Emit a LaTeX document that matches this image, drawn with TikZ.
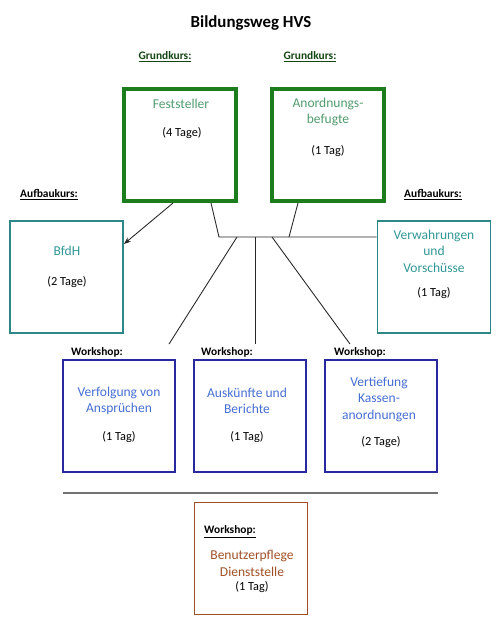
\documentclass[tikz,border=0pt]{standalone}
\usepackage{fontspec}
\setmainfont{Carlito}
\usepackage{xcolor}
\usetikzlibrary{arrows.meta, calc, positioning}

\definecolor{kursgruen}{RGB}{28,125,28}
\definecolor{kurstext}{RGB}{80,155,110}
\definecolor{labelgruen}{RGB}{20,70,20}
\definecolor{aufbaurand}{RGB}{45,135,135}
\definecolor{aufbautext}{RGB}{50,150,150}
\definecolor{workrand}{RGB}{40,40,160}
\definecolor{worktext}{RGB}{70,110,210}
\definecolor{braun}{RGB}{160,80,40}

\begin{document}
\begin{tikzpicture}[x=0.02cm, y=-0.02cm,
    kursbox/.style={draw=kursgruen, line width=2.3pt, minimum width=2.24cm, minimum height=2.24cm, inner sep=0pt},
    aufbaubox/.style={draw=aufbaurand, line width=1.1pt, minimum width=2.26cm, minimum height=2.24cm, inner sep=0pt},
    workbox/.style={draw=workrand, line width=1.1pt, minimum width=2.24cm, minimum height=2.24cm, inner sep=0pt},
    extrabox/.style={draw=braun, line width=0.9pt, minimum width=2.26cm, minimum height=2.24cm, inner sep=0pt},
    nametext/.style={align=center, inner sep=0pt, font=\fontsize{7.7}{9.4}\selectfont},
    tagetext/.style={inner sep=0pt, font=\fontsize{7}{8}\selectfont},
    kopf/.style={inner sep=0pt, font=\fontsize{6.5}{8}\selectfont\bfseries},
    verbindung/.style={line width=0.5pt, black!85}]
    \useasboundingbox (0,0) rectangle (499,625);

    % Titel
    \node[inner sep=0pt, font=\fontsize{9.6}{11}\selectfont\bfseries] (titel) at (251,23) {Bildungsweg HVS};

    % Grundkurse
    \node[kopf, labelgruen] (gk1) at (165,57) {\underline{Grundkurs:}};
    \node[kopf, labelgruen] (gk2) at (310,57) {\underline{Grundkurs:}};
    \node[kursbox] (fest) at (180,145) {};
    \node[nametext, kurstext] (fest-n) at (181,104) {Feststeller};
    \node[tagetext] (fest-t) at (182,133) {(4 Tage)};
    \node[kursbox] (anord) at (328,145) {};
    \node[nametext, kurstext] (anord-n) at (328,112) {Anordnungs-\\befugte};
    \node[tagetext] (anord-t) at (328,151) {(1 Tag)};

    % Aufbaukurse
    \node[kopf] (ak1) at (49,195) {\underline{Aufbaukurs:}};
    \node[kopf] (ak2) at (433,195) {\underline{Aufbaukurs:}};
    \node[aufbaubox] (bfdh) at (66.5,277) {};
    \node[nametext, aufbautext] (bfdh-n) at (67,251) {BfdH};
    \node[tagetext] (bfdh-t) at (67,282) {(2 Tage)};
    \node[aufbaubox] (verw) at (434,277) {};
    \node[nametext, aufbautext] (verw-n) at (434,251) {Verwahrungen\\und\\Vorschüsse};
    \node[tagetext] (verw-t) at (434,293) {(1 Tag)};

    % Workshops
    \node[kopf] (wk1) at (97,354) {\underline{Workshop:}};
    \node[kopf] (wk2) at (227,354) {\underline{Workshop:}};
    \node[kopf] (wk3) at (360,354) {\underline{Workshop:}};
    \node[workbox] (ws1) at (119,416) {};
    \node[nametext, worktext] (ws1-n) at (119,401) {Verfolgung von\\Ansprüchen};
    \node[tagetext] (ws1-t) at (119,437) {(1 Tag)};
    \node[workbox] (ws2) at (250,416) {};
    \node[nametext, worktext] (ws2-n) at (247,401) {Auskünfte und\\Berichte};
    \node[tagetext] (ws2-t) at (247,437) {(1 Tag)};
    \node[workbox] (ws3) at (381,416) {};
    \node[nametext, worktext] (ws3-n) at (379,399) {Vertiefung\\Kassen-\\anordnungen};
    \node[tagetext] (ws3-t) at (381,442) {(2 Tage)};

    % Trennlinie
    \draw[line width=1pt, black!55] (63,493) -- (438,493);

    % Zusatz-Workshop
    \node[extrabox] (benutzer) at (251,558.5) {};
    \node[kopf] (wk4) at (230,532) {\underline{Workshop:}};
    \node[nametext, braun] (benutzer-n) at (252,563.5) {Benutzerpflege\\Dienststelle};
    \node[tagetext] (benutzer-t) at (252,587) {(1 Tag)};

    % Verbindungen
    \coordinate (j1) at (219,237);
    \coordinate (j2) at (289,237);
    \coordinate (k1) at (237,237);
    \coordinate (k2) at (255,237);
    \coordinate (k3) at (272,237);
    \draw[verbindung, -{Stealth[length=4pt, width=3pt]}] ($(fest.south)+(-7,0)$) -- ($(bfdh.east)+(0,-33)$);
    \draw[verbindung] ($(fest.south)+(31,0)$) -- (j1) -- ($(verw.west)+(0,-40)$);
    \draw[verbindung] ($(anord.south)+(-30,0)$) -- (j2);
    \draw[verbindung] (k1) -- ($(ws1.north)+(50,-15)$);
    \draw[verbindung] (k2) -- ($(ws2.north)+(5,-15)$);
    \draw[verbindung] (k3) -- ($(ws3.north)+(-31,-15)$);
\end{tikzpicture}
\end{document}
